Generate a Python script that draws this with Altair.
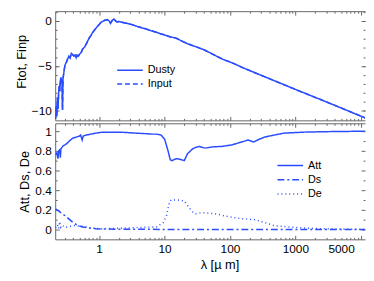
import altair as alt
import pandas as pd

# ---------------- data ----------------
lam_top = [0.215, 0.22, 0.225, 0.23, 0.235, 0.24, 0.245, 0.25, 0.255, 0.26, 0.265, 0.27,
           0.275, 0.28, 0.29, 0.30, 0.315, 0.33, 0.345, 0.36, 0.375, 0.39, 0.41, 0.43,
           0.445, 0.46, 0.48, 0.5, 0.53, 0.56, 0.6, 0.63, 0.67, 0.71, 0.75, 0.79, 0.85,
           0.94, 1.0, 1.05, 1.12, 1.2, 1.33, 1.42, 1.49, 1.58, 1.68, 1.78, 1.88, 2.0,
           2.24, 2.6, 3.17, 3.8, 4.47, 5.3, 6.3, 7.5, 8.9, 10, 12, 15, 18, 22, 26, 30,
           40, 50, 60, 80, 100, 120, 170, 240, 400, 1000, 3000, 12450]
f_dusty = [-10.9, -9.5, -10.6, -8.5, -9.8, -8.0, -7.2, -7.8, -6.6, -6.3, -6.8, -6.5,
           -9.9, -6.4, -5.6, -4.9, -4.6, -4.2, -3.9, -4.1, -3.6, -3.7, -3.9, -3.8,
           -4.1, -3.8, -3.9, -3.7, -3.5, -3.1, -2.9, -2.6, -2.2, -1.85, -1.6, -1.3, -1.0,
           -0.6, -0.4, -0.2, -0.05, 0.05, 0.15, 0.0, -0.25, 0.05, 0.22, 0.0, -0.1, -0.05,
           -0.15, -0.25, -0.4, -0.6, -0.76, -0.9, -1.1, -1.25, -1.45, -1.55, -1.75, -1.9,
           -2.2, -2.5, -2.7, -2.85, -3.2, -3.55, -3.85, -4.3, -4.55, -4.8, -5.3, -5.75,
           -6.41, -7.6, -9.0, -10.85]
f_input = [-10.9, -9.5, -10.6, -8.5, -9.8, -8.0, -7.2, -7.8, -6.6, -6.3, -6.8, -6.5,
           -9.9, -6.4, -5.6, -4.9, -4.6, -4.2, -3.9, -4.1, -3.6, -3.7, -3.9, -3.8,
           -4.1, -3.8, -3.9, -3.7, -3.5, -3.1, -2.9, -2.6, -2.2, -1.85, -1.6, -1.3, -1.0,
           -0.6, -0.4, -0.2, -0.05, 0.05, 0.15, 0.0, -0.25, 0.05, 0.22, 0.0, -0.1, -0.05,
           -0.15, -0.25, -0.4, -0.6, -0.76, -0.9, -1.1, -1.25, -1.45, -1.55, -1.75, -1.9,
           -2.2, -2.5, -2.7, -2.85, -3.2, -3.55, -3.85, -4.3, -4.55, -4.8, -5.3, -5.75,
           -6.41, -7.6, -9.0, -10.85]

lam_att = [0.215, 0.225, 0.235, 0.24, 0.25, 0.255, 0.26, 0.28, 0.3, 0.315, 0.35, 0.397,
           0.45, 0.5, 0.52, 0.55, 0.57, 0.63, 0.75, 0.89, 1.12, 1.5, 2.0, 2.8, 3.55, 5.0,
           6.3, 7.5, 8.9, 10, 11.3, 12.2, 13, 15, 17, 20, 22.4, 26.8, 30, 33.6, 40, 45,
           53.5, 75, 107, 150, 190, 230, 285, 340, 470, 670, 1350, 3000, 12450]
att = [0.76, 0.78, 0.72, 0.80, 0.81, 0.73, 0.82, 0.85, 0.86, 0.87, 0.90, 0.93,
       0.94, 0.95, 0.96, 0.91, 0.95, 0.96, 0.97, 0.98, 0.99, 0.99, 0.99, 0.985, 0.98, 0.975,
       0.97, 0.97, 0.96, 0.92, 0.80, 0.71, 0.70, 0.72, 0.715, 0.70, 0.77, 0.82, 0.835, 0.845, 0.83, 0.83,
       0.84, 0.845, 0.86, 0.89, 0.91, 0.89, 0.92, 0.94, 0.96, 0.98, 0.99, 0.995, 1.0]

lam_ds = [0.215, 0.25, 0.315, 0.4, 0.45, 0.5, 0.56, 0.7, 0.9, 1.12, 2, 5, 10, 100, 12450]
ds = [0.21, 0.18, 0.13, 0.07, 0.05, 0.035, 0.025, 0.015, 0.008, 0.005, 0.003, 0.002, 0.001, 0.0, 0.0]

lam_de = [0.215, 0.23, 0.24, 0.25, 0.26, 0.28, 0.3, 0.35, 0.42, 0.5, 0.6, 0.8, 1.0, 1.5,
          2.5, 4, 6, 7.5, 9.5, 10.6, 11.9, 12.6, 16, 20, 23.8, 27, 30, 36, 42, 60, 95,
          150, 240, 340, 470, 670, 1050, 2000, 5000, 12450]
de = [0.02, 0.05, 0.01, 0.08, 0.02, 0.04, 0.02, 0.03, 0.04, 0.035, 0.03, 0.015, 0.008, 0.01,
      0.015, 0.02, 0.025, 0.025, 0.07, 0.13, 0.28, 0.30, 0.30, 0.29, 0.22, 0.18, 0.16, 0.17, 0.17, 0.16, 0.13,
      0.11, 0.10, 0.07, 0.04, 0.03, 0.02, 0.01, 0.005, 0.0]

x_labels = [1, 10, 100, 1000, 5000]
x_major = [1, 10, 100, 1000, 10000]
x_minor = [m * d for d in [0.1, 1, 10, 100, 1000] for m in range(2, 10) if 0.22 < m * d < 11000]

top_labels = [-10, -5, 0]
top_minor = [-10, -9, -8, -7, -6, -5, -4, -3, -2, -1, 0, 1]
bot_labels = [0, 0.2, 0.4, 0.6, 0.8, 1]
bot_minor = [0.1, 0.3, 0.5, 0.7, 0.9]

# ---------------- styling ----------------
BLUE = "#2a4cff"
GREY = "#666666"
FONT = "Liberation Sans"
XDOM = [0.2128, 11610]
W = 315
H_TOP = 111
H_BOT = 118
TOP_DOM = [-11.04, 1.09]
BOT_DOM = [-0.1, 1.08]


def xs():
    return alt.Scale(type="log", domain=XDOM, nice=False)


def tick_layers(ydom, ymaj, ymin):
    # a single invisible anchor point in the middle carries the extra axes
    anchor = pd.DataFrame({"lam": [1.0], "val": [(ydom[0] + ydom[1]) / 2]})
    layers = []
    for ox, oy, xv, yv, size in [("bottom", "left", x_major, ymaj, 4),
                                 ("bottom", "left", x_minor, ymin, 2),
                                 ("top", "right", x_major, ymaj, 4),
                                 ("top", "right", x_minor, ymin, 2)]:
        layers.append(
            alt.Chart(anchor).mark_point(opacity=0, size=1).encode(
                x=alt.X("lam:Q", scale=xs(), axis=alt.Axis(
                    orient=ox, values=xv, tickSize=size, offset=-size, labels=False,
                    domain=False, grid=False, title=None, ticks=True, tickColor=GREY,
                    minExtent=0, maxExtent=4)),
                y=alt.Y("val:Q", scale=alt.Scale(domain=ydom, nice=False, zero=False), axis=alt.Axis(
                    orient=oy, values=yv, tickSize=size, offset=-size, labels=False,
                    domain=False, grid=False, title=None, ticks=True, tickColor=GREY,
                    minExtent=0, maxExtent=4)),
            )
        )
    # top frame line (right edge of the frame lies just outside the picture)
    layers.append(
        alt.Chart(anchor).mark_point(opacity=0, size=1).encode(
            x=alt.X("lam:Q", scale=xs(), axis=alt.Axis(
                orient="top", values=x_major, ticks=False, labels=False, domain=True,
                domainColor=GREY, grid=False, title=None, minExtent=0, maxExtent=0)),
            y=alt.Y("val:Q", scale=alt.Scale(domain=ydom, nice=False, zero=False), axis=None),
        )
    )
    return layers


# ---------------- top panel ----------------
n = len(lam_top)
top_df = pd.DataFrame({
    "lam": lam_top + lam_top,
    "val": f_dusty + f_input,
    "series": ["Dusty"] * n + ["Input"] * n,
})

top_lines = alt.Chart(top_df).mark_line(strokeWidth=1.5, color=BLUE, clip=True).encode(
    x=alt.X("lam:Q", scale=xs(), axis=alt.Axis(
        orient="bottom", values=x_labels, labels=False, ticks=False, domain=True,
        domainColor=GREY, grid=False, title=None, minExtent=0)),
    y=alt.Y("val:Q", scale=alt.Scale(domain=TOP_DOM, nice=False, zero=False), axis=alt.Axis(
        orient="left", values=top_labels, ticks=False, domain=True, domainColor=GREY,
        grid=False, labelPadding=4, title="Ftot, Finp", titleX=-34, titleY=51,
        titleBaseline="middle", titleAngle=270)),
    strokeDash=alt.StrokeDash("series:N", scale=alt.Scale(
        domain=["Dusty", "Input"], range=[[1, 0], [5, 3]]),
        legend=alt.Legend(title=None, orient="none", legendX=62, legendY=53,
                          symbolType="stroke", symbolSize=676, symbolStrokeWidth=1.5,
                          symbolStrokeColor=BLUE, labelFontSize=11, labelFont=FONT,
                          clipHeight=14, rowPadding=0, padding=0, labelOffset=4)),
)

top = alt.layer(top_lines, *tick_layers(TOP_DOM, top_labels, top_minor)).resolve_axis(
    x="independent", y="independent").properties(width=W, height=H_TOP)

# ---------------- bottom panel ----------------
bot_df = pd.DataFrame({
    "lam": lam_att + lam_ds + lam_de,
    "val": att + ds + de,
    "series": ["Att"] * len(lam_att) + ["Ds"] * len(lam_ds) + ["De"] * len(lam_de),
})

bot_lines = alt.Chart(bot_df).mark_line(color=BLUE, clip=True).encode(
    x=alt.X("lam:Q", scale=xs(), axis=alt.Axis(
        orient="bottom", values=x_labels, format="d", ticks=False, domain=True,
        domainColor=GREY, grid=False, labelPadding=4, title="λ [µ m]", titlePadding=5,
        titleX=167, titleAlign="center")),
    y=alt.Y("val:Q", scale=alt.Scale(domain=BOT_DOM, nice=False, zero=False), axis=alt.Axis(
        orient="left", values=bot_labels, format="~g", ticks=False, domain=True,
        domainColor=GREY, grid=False, labelPadding=4, title="Att, Ds, De", titleX=-31,
        titleBaseline="middle", titleAngle=270)),
    strokeDash=alt.StrokeDash("series:N", scale=alt.Scale(
        domain=["Att", "Ds", "De"], range=[[1, 0], [7, 3, 2, 3], [1, 3]]),
        legend=alt.Legend(title=None, orient="none", legendX=225, legendY=36,
                          symbolType="stroke", symbolSize=676, symbolStrokeWidth=1.5,
                          symbolStrokeColor=BLUE, labelFontSize=11, labelFont=FONT,
                          clipHeight=14, rowPadding=0.5, padding=0, labelOffset=4)),
    strokeWidth=alt.StrokeWidth("series:N", scale=alt.Scale(
        domain=["Att", "Ds", "De"], range=[1.5, 1.5, 1.2]), legend=None),
)

bot = alt.layer(bot_lines, *tick_layers(BOT_DOM, bot_labels, bot_minor)).resolve_axis(
    x="independent", y="independent").properties(width=W, height=H_BOT)

chart = alt.vconcat(top, bot, spacing=1).resolve_scale(
    strokeDash="independent", strokeWidth="independent"
).resolve_legend(
    strokeDash="independent", strokeWidth="independent"
).properties(
    padding={"left": 8, "top": 0, "right": 0, "bottom": 0}
).configure_view(
    strokeWidth=0
).configure_axis(
    labelFont=FONT, titleFont=FONT, labelFontSize=12, titleFontSize=13,
    labelColor="black", titleColor="black", titleFontWeight="normal"
).configure_legend(
    labelColor="black"
)

chart.save("out.html", embed_options={"renderer": "svg", "actions": False})
